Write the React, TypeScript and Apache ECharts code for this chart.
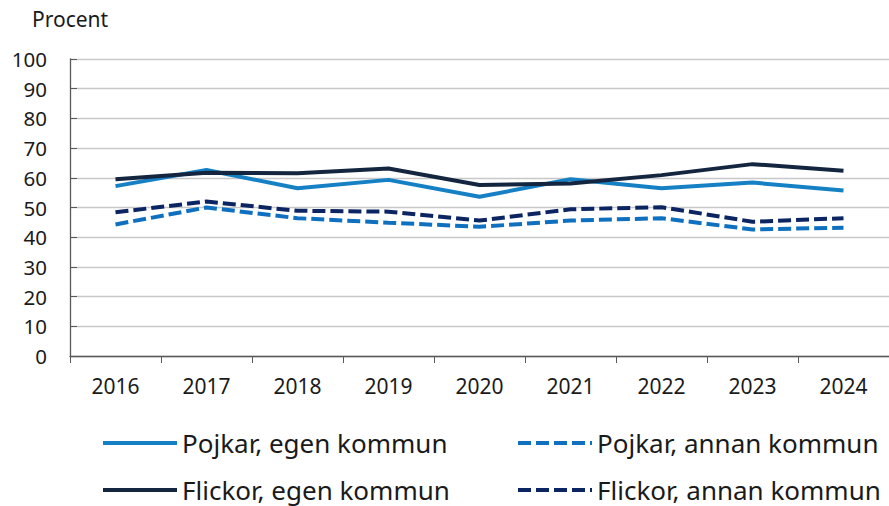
import React, { useEffect, useRef } from "react";
import * as echarts from "echarts";

const years = ["2016", "2017", "2018", "2019", "2020", "2021", "2022", "2023", "2024"];
const pojkarEgen = [57.2, 62.6, 56.5, 59.3, 53.6, 59.5, 56.5, 58.4, 55.7];
const flickorEgen = [59.5, 61.7, 61.5, 63.1, 57.6, 58.1, 60.9, 64.6, 62.4];
const pojkarAnnan = [44.3, 50.0, 46.4, 44.9, 43.5, 45.6, 46.4, 42.6, 43.2];
const flickorAnnan = [48.4, 52.0, 48.9, 48.6, 45.6, 49.4, 50.1, 45.2, 46.4];

const seriesNames = [
  "Pojkar, egen kommun",
  "Pojkar, annan kommun",
  "Flickor, egen kommun",
  "Flickor, annan kommun",
];

const FONT = "'Noto Sans', 'Open Sans', sans-serif";

export default function App() {
  const ref = useRef<HTMLDivElement>(null);
  useEffect(() => {
    if (!ref.current) return;
    const chart = echarts.init(ref.current, null, { renderer: "svg" });
    const colors = ["#1580c4", "#0f70bf", "#14263f", "#0b2462"];
    const mk = (name: string, data: number[], color: string, dashed: boolean) => ({
      name,
      type: "line",
      data,
      symbol: "none",
      color,
      lineStyle: {
        color,
        width: 4,
        type: dashed ? [13, 5] : "solid",
      },
    });
    const legendBase = {
      itemWidth: 74,
      itemHeight: 14,
      padding: 0,
      itemStyle: { opacity: 0 },
      lineStyle: { width: 4 },
      textStyle: { fontSize: 26, color: "#1a1a1a", fontFamily: FONT },
      selectedMode: false,
    };
    chart.setOption({
      animation: false,
      textStyle: { fontFamily: FONT },
      grid: { left: 70, top: 59, bottom: 150, right: -13, containLabel: false },
      graphic: [
        {
          type: "text",
          left: 32,
          top: 8,
          style: { text: "Procent", fontSize: 21, fill: "#1a1a1a", fontFamily: FONT },
        },
      ],
      legend: [
        { ...legendBase, data: [seriesNames[0]], left: 101, top: 430 },
        { ...legendBase, data: [seriesNames[1]], left: 516, top: 430 },
        { ...legendBase, data: [seriesNames[2]], left: 101, top: 477 },
        { ...legendBase, data: [seriesNames[3]], left: 516, top: 477 },
      ],
      xAxis: {
        type: "category",
        data: years,
        boundaryGap: true,
        axisLine: { lineStyle: { color: "#595959", width: 1.3 } },
        axisTick: { show: true, length: 7, lineStyle: { color: "#595959" } },
        axisLabel: { fontSize: 21, color: "#1a1a1a", margin: 19, fontFamily: FONT },
      },
      yAxis: {
        type: "value",
        min: 0,
        max: 100,
        interval: 10,
        axisLine: { show: true, lineStyle: { color: "#595959", width: 1.3 } },
        axisTick: { show: true, inside: true, length: 7, lineStyle: { color: "#595959" } },
        splitLine: { lineStyle: { color: "#c8c8c8", width: 1.3 } },
        axisLabel: { fontSize: 20.5, color: "#1a1a1a", margin: 23, fontFamily: FONT },
      },
      series: [
        mk(seriesNames[0], pojkarEgen, colors[0], false),
        mk(seriesNames[1], pojkarAnnan, colors[1], true),
        mk(seriesNames[2], flickorEgen, colors[2], false),
        mk(seriesNames[3], flickorAnnan, colors[3], true),
      ],
    });
    return () => chart.dispose();
  }, []);
  return <div ref={ref} style={{ width: 889, height: 506, position: "absolute", left: 0, top: 0 }} />;
}
